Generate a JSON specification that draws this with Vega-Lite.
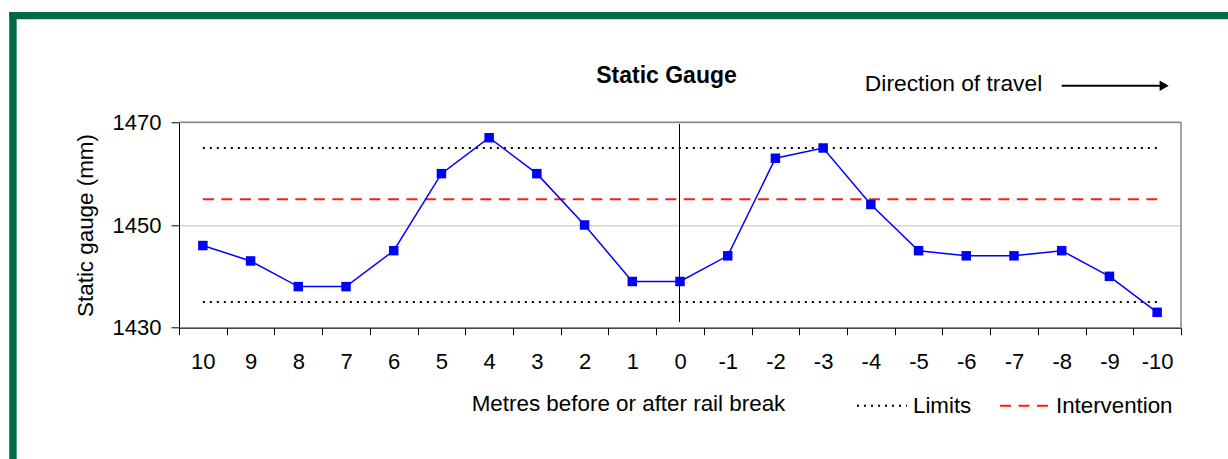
{
  "$schema": "https://vega.github.io/schema/vega-lite/v6.json",
  "width": 1002,
  "height": 205.4,
  "autosize": {"type": "none"},
  "padding": {"left": 179, "top": 122.3, "right": 47, "bottom": 131.3},
  "background": "white",
  "config": {
    "view": {"stroke": null},
    "font": "Liberation Sans",
    "axis": {"labelFont": "Liberation Sans", "titleFont": "Liberation Sans", "labelFontSize": 22, "titleFontSize": 22.4, "titleFontWeight": "normal", "labelColor": "black", "titleColor": "black", "domainColor": "black", "tickColor": "black", "domainWidth": 1, "tickWidth": 1},
    "legend": {"orient": "none", "legendX": 677, "legendY": 257, "direction": "horizontal", "symbolType": "stroke", "symbolSize": 2500, "symbolStrokeWidth": 2, "labelFont": "Liberation Sans", "labelFontSize": 22.3, "labelColor": "black", "columnPadding": 24, "labelOffset": 5, "padding": 0}
  },
  "datasets": {
    "gauge": [
      {"m": 10, "gauge": 1446}, {"m": 9, "gauge": 1443}, {"m": 8, "gauge": 1438}, {"m": 7, "gauge": 1438},
      {"m": 6, "gauge": 1445}, {"m": 5, "gauge": 1460}, {"m": 4, "gauge": 1467}, {"m": 3, "gauge": 1460},
      {"m": 2, "gauge": 1450}, {"m": 1, "gauge": 1439}, {"m": 0, "gauge": 1439}, {"m": -1, "gauge": 1444},
      {"m": -2, "gauge": 1463}, {"m": -3, "gauge": 1465}, {"m": -4, "gauge": 1454}, {"m": -5, "gauge": 1445},
      {"m": -6, "gauge": 1444}, {"m": -7, "gauge": 1444}, {"m": -8, "gauge": 1445}, {"m": -9, "gauge": 1440},
      {"m": -10, "gauge": 1433}
    ],
    "levels": [
      {"series": "Limits", "value": 1465},
      {"series": "Limits", "value": 1435},
      {"series": "Intervention", "value": 1455}
    ],
    "notes": [{"note": "Direction of travel"}],
    "heading": [{"text": "Static Gauge"}]
  },
  "layer": [
    {
      "data": {"name": "notes"},
      "mark": {"type": "rule", "color": "#006a40", "strokeWidth": 7.3, "strokeCap": "butt", "clip": false, "xOffset": -193.6, "x2Offset": 90},
      "encoding": {
        "x": {"datum": 10, "type": "ordinal", "scale": {"type": "band", "domain": [10, 9, 8, 7, 6, 5, 4, 3, 2, 1, 0, -1, -2, -3, -4, -5, -6, -7, -8, -9, -10], "paddingInner": 0, "paddingOuter": 0}},
        "x2": {"datum": -10},
        "y": {"datum": 1490.77, "type": "quantitative", "scale": {"domain": [1430, 1470], "nice": false, "zero": false}}
      }
    },
    {
      "data": {"name": "notes"},
      "mark": {"type": "rule", "color": "#006a40", "strokeWidth": 7.4, "strokeCap": "butt", "clip": false, "xOffset": -189.9},
      "encoding": {
        "x": {"datum": 10, "type": "ordinal", "scale": {"type": "band", "domain": [10, 9, 8, 7, 6, 5, 4, 3, 2, 1, 0, -1, -2, -3, -4, -5, -6, -7, -8, -9, -10], "paddingInner": 0, "paddingOuter": 0}},
        "y": {"datum": 1491.48, "type": "quantitative", "scale": {"domain": [1430, 1470], "nice": false, "zero": false}},
        "y2": {"datum": 1400}
      }
    },
    {
      "data": {"name": "notes"},
      "mark": {"type": "rule", "color": "#868686", "strokeWidth": 1.5},
      "encoding": {
        "y": {"datum": 1470, "type": "quantitative", "scale": {"domain": [1430, 1470], "nice": false, "zero": false}}
      }
    },
    {
      "data": {"name": "notes"},
      "mark": {"type": "rule", "color": "#868686", "strokeWidth": 1.5, "xOffset": 23.86, "clip": false},
      "encoding": {
        "x": {"datum": -10, "type": "ordinal", "scale": {"type": "band", "domain": [10, 9, 8, 7, 6, 5, 4, 3, 2, 1, 0, -1, -2, -3, -4, -5, -6, -7, -8, -9, -10], "paddingInner": 0, "paddingOuter": 0}},
        "y": {"datum": 1430, "type": "quantitative", "scale": {"domain": [1430, 1470], "nice": false, "zero": false}},
        "y2": {"datum": 1470}
      }
    },
    {
      "data": {"name": "levels"},
      "mark": {"type": "rule", "strokeWidth": 2},
      "encoding": {
        "x": {"datum": 10, "type": "ordinal", "scale": {"type": "band", "domain": [10, 9, 8, 7, 6, 5, 4, 3, 2, 1, 0, -1, -2, -3, -4, -5, -6, -7, -8, -9, -10], "paddingInner": 0, "paddingOuter": 0}},
        "x2": {"datum": -10},
        "y": {"field": "value", "type": "quantitative", "scale": {"domain": [1430, 1470], "nice": false, "zero": false}},
        "color": {"field": "series", "type": "nominal", "scale": {"domain": ["Limits", "Intervention"], "range": ["#000000", "#ff1a1a"]}, "legend": {"title": null}},
        "strokeDash": {"field": "series", "type": "nominal", "scale": {"domain": ["Limits", "Intervention"], "range": [[2, 5], [11, 7.5]]}, "legend": {"title": null}}
      }
    },
    {
      "data": {"name": "notes"},
      "mark": {"type": "rule", "color": "black", "strokeWidth": 1, "xOffset": -0.5},
      "encoding": {
        "x": {"datum": 0, "type": "ordinal", "scale": {"type": "band", "domain": [10, 9, 8, 7, 6, 5, 4, 3, 2, 1, 0, -1, -2, -3, -4, -5, -6, -7, -8, -9, -10], "paddingInner": 0, "paddingOuter": 0}},
        "y": {"datum": 1431.1, "type": "quantitative", "scale": {"domain": [1430, 1470], "nice": false, "zero": false}},
        "y2": {"datum": 1469.7}
      }
    },
    {
      "data": {"name": "gauge"},
      "mark": {"type": "line", "color": "#0000ff", "strokeWidth": 1.5},
      "encoding": {
        "x": {"field": "m", "type": "ordinal", "scale": {"type": "band", "domain": [10, 9, 8, 7, 6, 5, 4, 3, 2, 1, 0, -1, -2, -3, -4, -5, -6, -7, -8, -9, -10], "paddingInner": 0, "paddingOuter": 0},
              "axis": {"title": "Metres before or after rail break", "orient": "bottom", "tickBand": "extent", "tickSize": 7, "labelPadding": 27, "labelAngle": 0, "labelAlign": "center", "grid": false, "titlePadding": 20, "titleX": 449}},
        "y": {"field": "gauge", "type": "quantitative", "scale": {"domain": [1430, 1470], "nice": false, "zero": false},
              "axis": {"title": "Static gauge (mm)", "format": "d", "values": [1430, 1450, 1470], "grid": true, "gridColor": "#c0c0c0", "gridWidth": 1, "tickSize": 8, "labelPadding": 10, "titlePadding": 15}}
      }
    },
    {
      "data": {"name": "gauge"},
      "mark": {"type": "point", "shape": "square", "filled": true, "color": "#0000ff", "size": 90, "opacity": 1},
      "encoding": {
        "x": {"field": "m", "type": "ordinal", "scale": {"type": "band", "domain": [10, 9, 8, 7, 6, 5, 4, 3, 2, 1, 0, -1, -2, -3, -4, -5, -6, -7, -8, -9, -10], "paddingInner": 0, "paddingOuter": 0}},
        "y": {"field": "gauge", "type": "quantitative", "scale": {"domain": [1430, 1470], "nice": false, "zero": false}}
      }
    },
    {
      "data": {"name": "heading"},
      "mark": {"type": "text", "align": "center", "baseline": "alphabetic", "font": "Liberation Sans", "fontSize": 23, "fontWeight": "bold", "color": "black", "dx": -13.5, "clip": false},
      "encoding": {
        "text": {"field": "text"},
        "x": {"datum": 0, "type": "ordinal", "scale": {"type": "band", "domain": [10, 9, 8, 7, 6, 5, 4, 3, 2, 1, 0, -1, -2, -3, -4, -5, -6, -7, -8, -9, -10], "paddingInner": 0, "paddingOuter": 0}},
        "y": {"datum": 1477.65, "type": "quantitative", "scale": {"domain": [1430, 1470], "nice": false, "zero": false}}
      }
    },
    {
      "data": {"name": "notes"},
      "mark": {"type": "text", "align": "left", "baseline": "alphabetic", "font": "Liberation Sans", "fontSize": 22.8, "color": "black", "dx": -6, "clip": false},
      "encoding": {
        "text": {"field": "note"},
        "x": {"datum": -4, "type": "ordinal", "scale": {"type": "band", "domain": [10, 9, 8, 7, 6, 5, 4, 3, 2, 1, 0, -1, -2, -3, -4, -5, -6, -7, -8, -9, -10], "paddingInner": 0, "paddingOuter": 0}},
        "y": {"datum": 1476.15, "type": "quantitative", "scale": {"domain": [1430, 1470], "nice": false, "zero": false}}
      }
    },
    {
      "data": {"name": "notes"},
      "mark": {"type": "rule", "color": "black", "strokeWidth": 2, "x2Offset": 5, "clip": false},
      "encoding": {
        "x": {"datum": -8, "type": "ordinal", "scale": {"type": "band", "domain": [10, 9, 8, 7, 6, 5, 4, 3, 2, 1, 0, -1, -2, -3, -4, -5, -6, -7, -8, -9, -10], "paddingInner": 0, "paddingOuter": 0}},
        "x2": {"datum": -10},
        "y": {"datum": 1477.1, "type": "quantitative", "scale": {"domain": [1430, 1470], "nice": false, "zero": false}}
      }
    },
    {
      "data": {"name": "notes"},
      "mark": {"type": "point", "shape": "triangle-right", "filled": true, "color": "black", "size": 110, "opacity": 1, "xOffset": 7, "clip": false},
      "encoding": {
        "x": {"datum": -10, "type": "ordinal", "scale": {"type": "band", "domain": [10, 9, 8, 7, 6, 5, 4, 3, 2, 1, 0, -1, -2, -3, -4, -5, -6, -7, -8, -9, -10], "paddingInner": 0, "paddingOuter": 0}},
        "y": {"datum": 1477.1, "type": "quantitative", "scale": {"domain": [1430, 1470], "nice": false, "zero": false}}
      }
    }
  ]
}
